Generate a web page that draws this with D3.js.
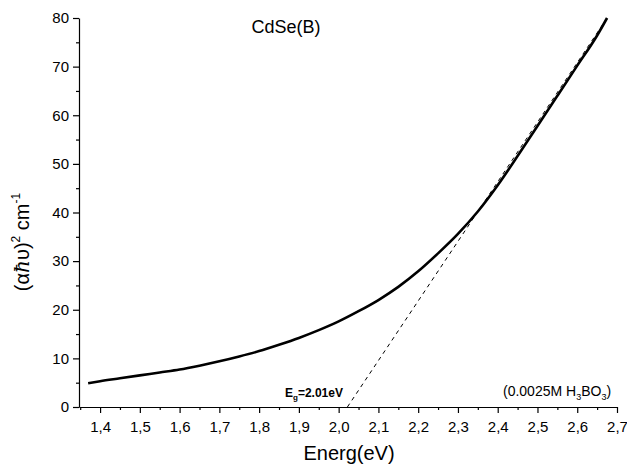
<!DOCTYPE html>
<html>
<head>
<meta charset="utf-8">
<script src="https://cdn.jsdelivr.net/npm/d3@7"></script>
<style>
  body { margin: 0; background: #fff; }
  svg text { font-family: Arial, "Liberation Sans", sans-serif; }
</style>
</head>
<body>
<div id="chart"></div>
<script>
// absorption edge curve
const energy = [1.37, 1.4, 1.45, 1.5, 1.55, 1.6, 1.65, 1.7, 1.75, 1.8, 1.85, 1.9, 1.95, 2.0,
                2.05, 2.1, 2.15, 2.2, 2.25, 2.3, 2.35, 2.4, 2.45, 2.5, 2.55, 2.6, 2.65, 2.675];
const absorb = [4.9, 5.3, 5.9, 6.5, 7.1, 7.7, 8.5, 9.4, 10.4, 11.5, 12.8, 14.2, 15.8, 17.6,
                19.7, 22.0, 24.7, 27.9, 31.6, 35.6, 40.2, 45.6, 51.6, 57.8, 64.0, 70.2, 76.4, 80.0];
// tangent (extrapolation) line
const fitX = [2.022, 2.675];
const fitY = [0, 80];
const xTicks = [1.4, 1.5, 1.6, 1.7, 1.8, 1.9, 2.0, 2.1, 2.2, 2.3, 2.4, 2.5, 2.6, 2.7];
const yTicks = [0, 10, 20, 30, 40, 50, 60, 70, 80];

const W = 627, H = 470;
const mLeft = 79, mRight = 617, mTop = 18, mBottom = 407;

const svg = d3.select("#chart").append("svg")
    .attr("width", W).attr("height", H);

const x = d3.scaleLinear().domain([1.347, 2.7]).range([mLeft, mRight]);
const y = d3.scaleLinear().domain([0, 80]).range([mBottom, mTop]);

const fmt = d => d3.format(".1f")(d).replace(".", ",");

// minor ticks first
svg.append("g")
    .attr("transform", `translate(0,${mBottom})`)
    .call(d3.axisBottom(x).tickValues(d3.range(1.35, 2.71, 0.1)).tickSize(3).tickFormat(""))
    .call(g => g.select(".domain").remove());
svg.append("g")
    .attr("transform", `translate(${mLeft},0)`)
    .call(d3.axisLeft(y).tickValues(d3.range(5, 80, 10)).tickSize(3).tickFormat(""))
    .call(g => g.select(".domain").remove());

const xAxis = svg.append("g")
    .attr("transform", `translate(0,${mBottom})`)
    .call(d3.axisBottom(x).tickValues(xTicks).tickSize(6).tickSizeOuter(0).tickFormat(fmt));
xAxis.selectAll("text").attr("font-size", 15).attr("dy", "1.05em").attr("fill", "#000");

const yAxis = svg.append("g")
    .attr("transform", `translate(${mLeft},0)`)
    .call(d3.axisLeft(y).tickValues(yTicks).tickSize(6).tickSizeOuter(0));
yAxis.selectAll("text").attr("font-size", 15).attr("fill", "#000").attr("x", -10);

svg.selectAll(".domain, .tick line").attr("stroke", "#000").attr("stroke-width", 1.2);

// dashed fit line
svg.append("path")
    .datum(fitX.map((d, i) => [d, fitY[i]]))
    .attr("fill", "none")
    .attr("stroke", "#000")
    .attr("stroke-width", 1)
    .attr("stroke-dasharray", "4,4")
    .attr("d", d3.line().x(d => x(d[0])).y(d => y(d[1])));

// curve
svg.append("path")
    .datum(energy.map((d, i) => [d, absorb[i]]))
    .attr("fill", "none")
    .attr("stroke", "#000")
    .attr("stroke-width", 2.6)
    .attr("d", d3.line().x(d => x(d[0])).y(d => y(d[1])).curve(d3.curveMonotoneX));

// texts
svg.append("text")
    .attr("x", 286).attr("y", 33)
    .attr("text-anchor", "middle")
    .attr("font-size", 18)
    .text("CdSe(B)");

svg.append("text")
    .attr("x", 349).attr("y", 460)
    .attr("text-anchor", "middle")
    .attr("font-size", 20)
    .text("Energ(eV)");

const yl = svg.append("text")
    .attr("transform", `translate(29,242) rotate(-90)`)
    .attr("text-anchor", "middle")
    .attr("font-size", 20);
yl.append("tspan").text("(α");
yl.append("tspan").attr("font-style", "italic").attr("font-family", "'DejaVu Serif', serif").text("ħ");
yl.append("tspan").text("υ)");
yl.append("tspan").attr("dy", -9).attr("font-size", 12).text("2");
yl.append("tspan").attr("dy", 9).text(" cm");
yl.append("tspan").attr("dy", -9).attr("font-size", 12).text("-1");

const eg = svg.append("text")
    .attr("x", 285).attr("y", 397)
    .attr("font-size", 12)
    .attr("font-weight", "bold");
eg.append("tspan").text("E");
eg.append("tspan").attr("dy", 3).attr("font-size", 8).text("g");
eg.append("tspan").attr("dy", -3).text("=2.01eV");

const cond = svg.append("text")
    .attr("x", 503).attr("y", 396)
    .attr("font-size", 14);
cond.append("tspan").text("(0.0025M H");
cond.append("tspan").attr("dy", 4).attr("font-size", 9).text("3");
cond.append("tspan").attr("dy", -4).text("BO");
cond.append("tspan").attr("dy", 4).attr("font-size", 9).text("3");
cond.append("tspan").attr("dy", -4).text(")");
</script>
</body>
</html>
